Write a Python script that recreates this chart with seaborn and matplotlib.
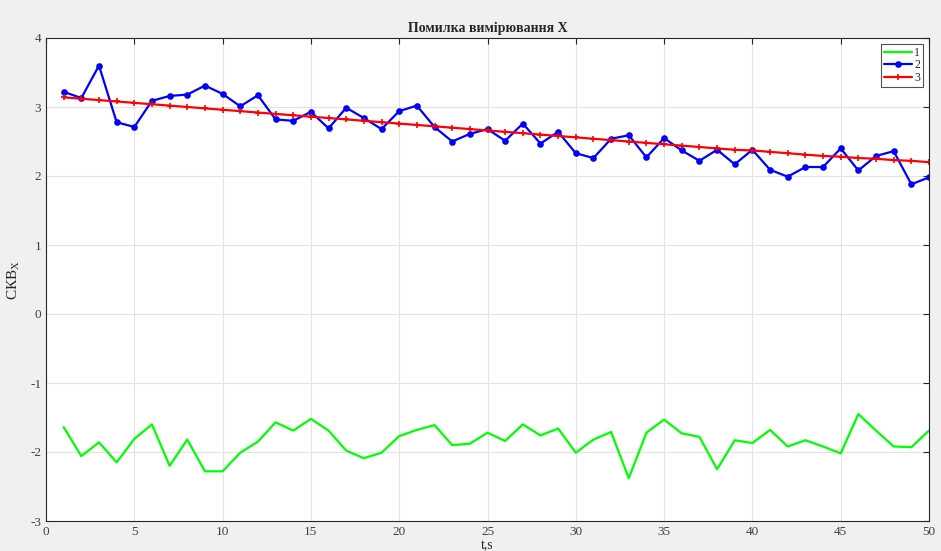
import numpy as np
import pandas as pd
import matplotlib
matplotlib.use("Agg")
import matplotlib.pyplot as plt
import seaborn as sns

t = list(range(1, 51))
series1 = [-1.64, -2.06, -1.86, -2.15, -1.81, -1.60, -2.20, -1.82, -2.28, -2.28,
           -2.01, -1.85, -1.57, -1.69, -1.52, -1.69, -1.98, -2.09, -2.01, -1.77,
           -1.68, -1.61, -1.90, -1.88, -1.72, -1.84, -1.60, -1.76, -1.66, -2.01,
           -1.82, -1.71, -2.38, -1.72, -1.53, -1.73, -1.78, -2.25, -1.83, -1.87,
           -1.68, -1.92, -1.83, -1.92, -2.02, -1.45, -1.69, -1.92, -1.93, -1.69]
series2 = [3.22, 3.13, 3.60, 2.78, 2.71, 3.09, 3.16, 3.18, 3.31, 3.19,
           3.01, 3.17, 2.82, 2.80, 2.93, 2.69, 2.99, 2.84, 2.68, 2.94,
           3.02, 2.71, 2.50, 2.61, 2.68, 2.51, 2.76, 2.47, 2.64, 2.33,
           2.26, 2.54, 2.59, 2.27, 2.55, 2.37, 2.22, 2.38, 2.17, 2.38,
           2.09, 1.99, 2.13, 2.13, 2.40, 2.08, 2.29, 2.36, 1.88, 1.98]
series3 = [3.14, 3.12, 3.10, 3.08, 3.06, 3.04, 3.02, 3.00, 2.98, 2.96,
           2.94, 2.92, 2.90, 2.88, 2.86, 2.84, 2.82, 2.80, 2.78, 2.76,
           2.74, 2.72, 2.70, 2.68, 2.66, 2.64, 2.62, 2.60, 2.58, 2.56,
           2.54, 2.52, 2.50, 2.48, 2.46, 2.44, 2.42, 2.40, 2.38, 2.37,
           2.35, 2.33, 2.31, 2.29, 2.28, 2.26, 2.25, 2.23, 2.22, 2.20]
labels = ["1", "2", "3"]
xticks = [0, 5, 10, 15, 20, 25, 30, 35, 40, 45, 50]
yticks = [-3, -2, -1, 0, 1, 2, 3, 4]

sns.set_style("white")
plt.rcParams['font.family'] = ['Liberation Serif', 'DejaVu Serif']
plt.rcParams['mathtext.fontset'] = 'custom'
plt.rcParams['mathtext.rm'] = 'Liberation Serif'
plt.rcParams['mathtext.it'] = 'Liberation Serif'
plt.rcParams['axes.unicode_minus'] = False

fig = plt.figure(figsize=(9.41, 5.51), dpi=100)
fig.patch.set_facecolor('#f0f0f0')
ax = fig.add_axes([46/941, 1-521/551, (929-46)/941, (521-38)/551])
ax.set_facecolor('white')

sns.lineplot(x=t, y=series1, ax=ax, color='#00ff00', linewidth=1.6, label=labels[0])
sns.lineplot(x=t, y=series2, ax=ax, color='#0000ff', linewidth=1.6, marker='o',
             markersize=4.8, markeredgewidth=0, label=labels[1])
sns.lineplot(x=t, y=series3, ax=ax, color='#ff0000', linewidth=1.6, marker='+',
             markersize=4.5, markeredgewidth=1.2, markeredgecolor='#ff0000',
             label=labels[2])

ax.set_xlim(0, 50)
ax.set_ylim(-3, 4)
ax.set_xticks(xticks)
ax.set_yticks(yticks)
ax.grid(True, color='#e3e3e3', linewidth=0.8)
ax.tick_params(direction='in', length=4, color='#262626', labelsize=9.5,
               labelcolor='#404040', top=True, right=True, width=0.8)
for s in ax.spines.values():
    s.set_color('#262626')
    s.set_linewidth(0.8)

ax.set_title('Помилка вимірювання X', fontsize=10, fontweight='bold', pad=4)
ax.set_xlabel('t,s', fontsize=10, color='#262626', labelpad=1)
ax.set_ylabel('СКВ$_\\mathrm{X}$', fontsize=11, color='#262626', labelpad=6)

leg = ax.legend(loc='upper right', fontsize=8.5, frameon=True, fancybox=False,
                handlelength=2.4, borderpad=0.25, labelspacing=0.05,
                handletextpad=0.2, borderaxespad=0.5)
leg.get_frame().set_edgecolor('#262626')
leg.get_frame().set_linewidth(0.8)

fig.savefig('out.png', dpi=100, facecolor=fig.get_facecolor())
